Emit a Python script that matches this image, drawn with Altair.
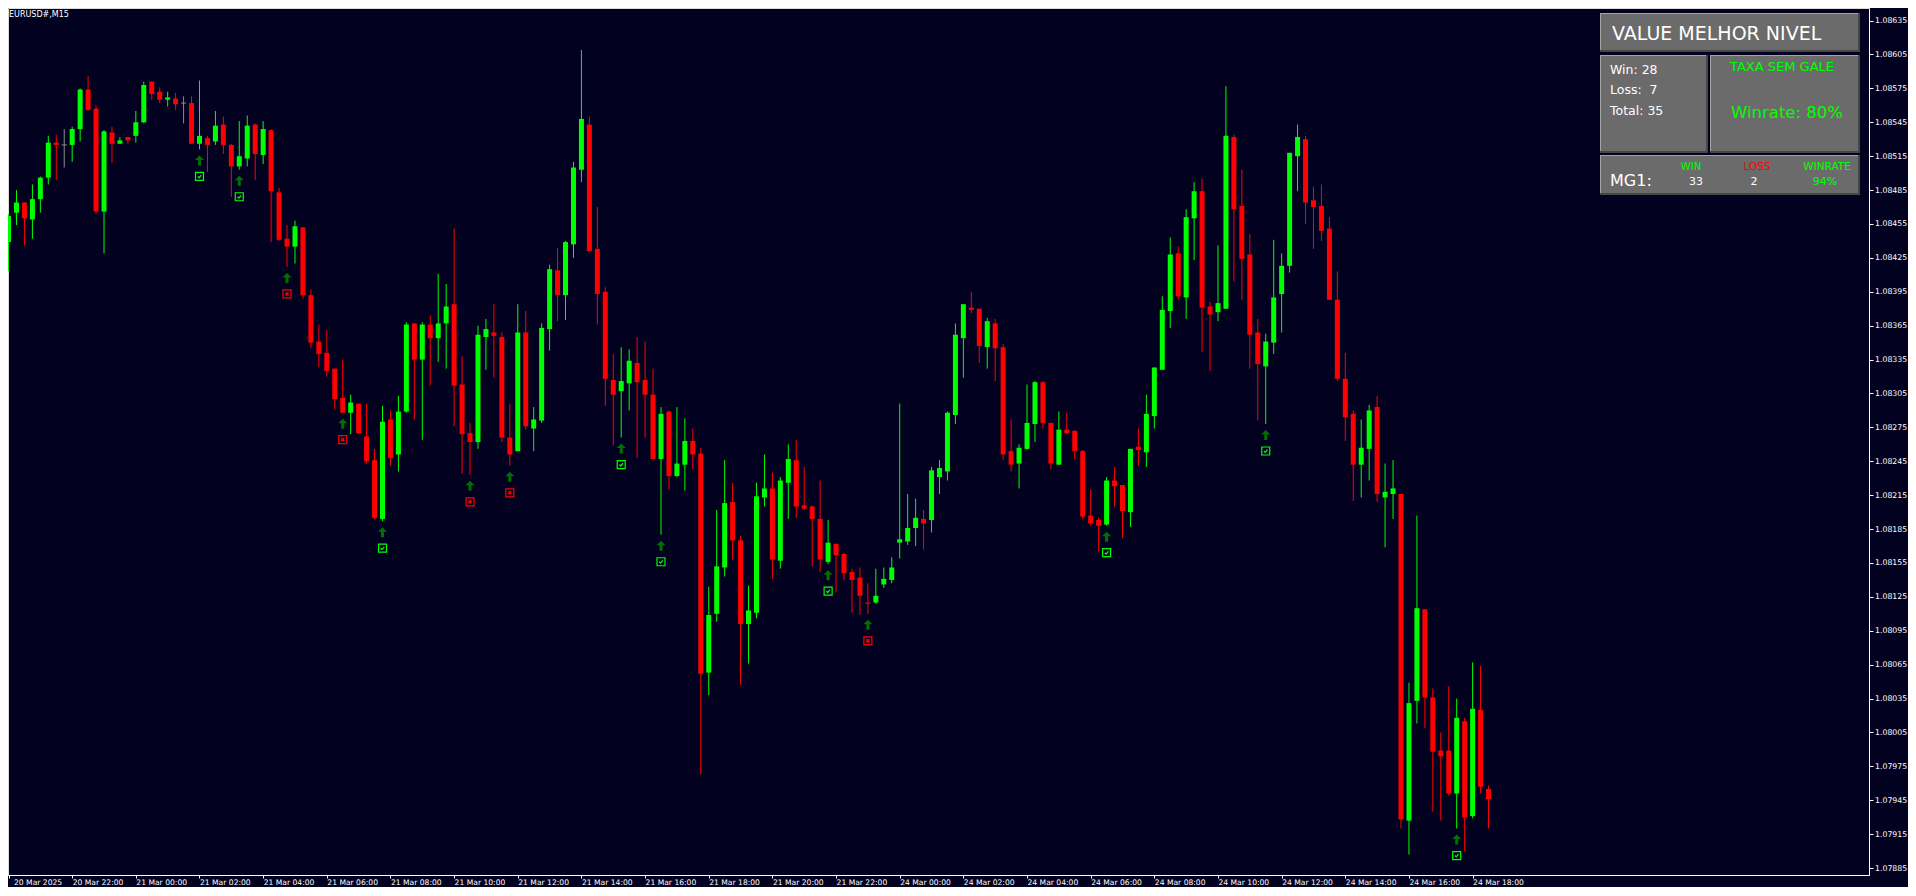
import altair as alt
import pandas as pd

SYMBOL = "EURUSD#,M15"

OPEN = [1.08439, 1.08465, 1.08474, 1.08459, 1.08477, 1.08496, 1.08527, 1.08525, 1.08525, 1.08539,
        1.08574, 1.08557, 1.08466, 1.08536, 1.08526, 1.08532, 1.08533, 1.08545, 1.08581, 1.08572,
        1.08565, 1.08566, 1.08562, 1.08562, 1.08526, 1.08531, 1.08528, 1.08543, 1.08525, 1.08506,
        1.08513, 1.08543, 1.08516, 1.08538, 1.08483, 1.08442, 1.08435, 1.08452, 1.08392, 1.08351,
        1.08341, 1.08327, 1.08301, 1.08288, 1.08296, 1.08267, 1.08246, 1.08194, 1.08282, 1.08251,
        1.08289, 1.08367, 1.08335, 1.08366, 1.08354, 1.08367, 1.08384, 1.08313, 1.08270, 1.08262,
        1.08355, 1.08359, 1.08355, 1.08266, 1.08254, 1.08359, 1.08274, 1.08281, 1.08362, 1.08414,
        1.08392, 1.08437, 1.08503, 1.08543, 1.08433, 1.08395, 1.08317, 1.08307, 1.08314, 1.08332,
        1.08317, 1.08304, 1.08247, 1.08289, 1.08232, 1.08242, 1.08263, 1.08252, 1.08058, 1.08110,
        1.08151, 1.08209, 1.08175, 1.08101, 1.08111, 1.08213, 1.08221, 1.08157, 1.08226, 1.08246,
        1.08206, 1.08205, 1.08194, 1.08156, 1.08172, 1.08163, 1.08147, 1.08142, 1.08120, 1.08120,
        1.08136, 1.08140, 1.08173, 1.08174, 1.08186, 1.08194, 1.08193, 1.08231, 1.08236, 1.08286,
        1.08354, 1.08381, 1.08380, 1.08346, 1.08367, 1.08346, 1.08254, 1.08243, 1.08256, 1.08278,
        1.08315, 1.08279, 1.08242, 1.08273, 1.08272, 1.08254, 1.08197, 1.08193, 1.08189, 1.08228,
        1.08224, 1.08200, 1.08258, 1.08253, 1.08285, 1.08326, 1.08378, 1.08429, 1.08390, 1.08460,
        1.08484, 1.08382, 1.08377, 1.08380, 1.08532, 1.08471, 1.08428, 1.08359, 1.08329, 1.08350,
        1.08393, 1.08418, 1.08515, 1.08530, 1.08476, 1.08471, 1.08451, 1.08388, 1.08318, 1.08287,
        1.08242, 1.08256, 1.08293, 1.08213, 1.08216, 1.08216, 1.07927, 1.08033, 1.08114, 1.08036,
        1.07989, 1.07989, 1.07951, 1.08015, 1.07931, 1.08025, 1.07955]

HIGH = [1.08464, 1.08485, 1.08474, 1.08490, 1.08497, 1.08533, 1.08534, 1.08539, 1.08541, 1.08575,
        1.08586, 1.08560, 1.08538, 1.08541, 1.08532, 1.08532, 1.08555, 1.08581, 1.08581, 1.08576,
        1.08572, 1.08571, 1.08568, 1.08568, 1.08582, 1.08533, 1.08555, 1.08550, 1.08526, 1.08546,
        1.08551, 1.08544, 1.08546, 1.08539, 1.08487, 1.08454, 1.08458, 1.08452, 1.08397, 1.08366,
        1.08361, 1.08327, 1.08335, 1.08304, 1.08296, 1.08296, 1.08256, 1.08294, 1.08290, 1.08303,
        1.08368, 1.08367, 1.08368, 1.08374, 1.08411, 1.08402, 1.08451, 1.08338, 1.08279, 1.08365,
        1.08371, 1.08384, 1.08359, 1.08296, 1.08384, 1.08378, 1.08293, 1.08367, 1.08419, 1.08434,
        1.08440, 1.08510, 1.08609, 1.08550, 1.08470, 1.08399, 1.08340, 1.08346, 1.08344, 1.08355,
        1.08351, 1.08327, 1.08293, 1.08290, 1.08293, 1.08283, 1.08274, 1.08257, 1.08134, 1.08202,
        1.08246, 1.08226, 1.08179, 1.08135, 1.08226, 1.08251, 1.08235, 1.08231, 1.08260, 1.08264,
        1.08240, 1.08206, 1.08228, 1.08193, 1.08172, 1.08164, 1.08150, 1.08151, 1.08137, 1.08150,
        1.08151, 1.08160, 1.08296, 1.08216, 1.08212, 1.08202, 1.08240, 1.08246, 1.08289, 1.08367,
        1.08384, 1.08395, 1.08380, 1.08372, 1.08371, 1.08349, 1.08282, 1.08260, 1.08313, 1.08316,
        1.08316, 1.08279, 1.08289, 1.08288, 1.08272, 1.08255, 1.08220, 1.08195, 1.08231, 1.08240,
        1.08224, 1.08256, 1.08274, 1.08304, 1.08328, 1.08391, 1.08443, 1.08435, 1.08468, 1.08492,
        1.08495, 1.08386, 1.08436, 1.08577, 1.08534, 1.08503, 1.08446, 1.08371, 1.08358, 1.08441,
        1.08429, 1.08518, 1.08543, 1.08533, 1.08488, 1.08490, 1.08461, 1.08413, 1.08341, 1.08290,
        1.08282, 1.08295, 1.08303, 1.08243, 1.08246, 1.08216, 1.08049, 1.08197, 1.08114, 1.08044,
        1.08005, 1.08046, 1.08035, 1.08018, 1.08067, 1.08064, 1.07958]

LOW = [1.08413, 1.08454, 1.08436, 1.08442, 1.08465, 1.08490, 1.08494, 1.08505, 1.08510, 1.08528,
       1.08555, 1.08464, 1.08429, 1.08509, 1.08526, 1.08526, 1.08527, 1.08544, 1.08565, 1.08562,
       1.08559, 1.08556, 1.08544, 1.08526, 1.08521, 1.08501, 1.08525, 1.08517, 1.08479, 1.08503,
       1.08506, 1.08494, 1.08508, 1.08439, 1.08440, 1.08417, 1.08420, 1.08389, 1.08345, 1.08328,
       1.08320, 1.08291, 1.08288, 1.08269, 1.08269, 1.08243, 1.08194, 1.08192, 1.08241, 1.08236,
       1.08288, 1.08282, 1.08264, 1.08312, 1.08333, 1.08327, 1.08276, 1.08234, 1.08233, 1.08256,
       1.08326, 1.08319, 1.08262, 1.08241, 1.08254, 1.08273, 1.08254, 1.08279, 1.08343, 1.08369,
       1.08370, 1.08425, 1.08492, 1.08431, 1.08366, 1.08294, 1.08259, 1.08266, 1.08290, 1.08248,
       1.08266, 1.08247, 1.08180, 1.08220, 1.08231, 1.08219, 1.08238, 1.07968, 1.08038, 1.08103,
       1.08143, 1.08158, 1.08047, 1.08066, 1.08106, 1.08205, 1.08141, 1.08150, 1.08194, 1.08195,
       1.08202, 1.08152, 1.08147, 1.08154, 1.08129, 1.08140, 1.08111, 1.08109, 1.08110, 1.08119,
       1.08133, 1.08137, 1.08159, 1.08171, 1.08170, 1.08167, 1.08182, 1.08216, 1.08228, 1.08278,
       1.08319, 1.08376, 1.08332, 1.08327, 1.08316, 1.08246, 1.08236, 1.08221, 1.08255, 1.08262,
       1.08274, 1.08238, 1.08242, 1.08269, 1.08247, 1.08194, 1.08188, 1.08165, 1.08188, 1.08205,
       1.08177, 1.08187, 1.08241, 1.08240, 1.08274, 1.08326, 1.08363, 1.08388, 1.08371, 1.08423,
       1.08342, 1.08325, 1.08369, 1.08380, 1.08404, 1.08388, 1.08327, 1.08281, 1.08278, 1.08340,
       1.08359, 1.08412, 1.08484, 1.08455, 1.08433, 1.08440, 1.08388, 1.08316, 1.08263, 1.08210,
       1.08213, 1.08228, 1.08209, 1.08169, 1.08194, 1.07920, 1.07897, 1.08013, 1.08009, 1.07935,
       1.07927, 1.07949, 1.07920, 1.07900, 1.07929, 1.07951, 1.07920]

CLOSE = [1.08462, 1.08474, 1.08460, 1.08477, 1.08496, 1.08527, 1.08525, 1.08525, 1.08539, 1.08574,
         1.08556, 1.08466, 1.08537, 1.08526, 1.08529, 1.08529, 1.08545, 1.08578, 1.08570, 1.08565,
         1.08567, 1.08561, 1.08562, 1.08526, 1.08533, 1.08525, 1.08542, 1.08525, 1.08506, 1.08515,
         1.08542, 1.08517, 1.08539, 1.08484, 1.08441, 1.08435, 1.08453, 1.08392, 1.08350, 1.08340,
         1.08325, 1.08300, 1.08288, 1.08297, 1.08270, 1.08245, 1.08195, 1.08280, 1.08248, 1.08289,
         1.08366, 1.08335, 1.08366, 1.08354, 1.08367, 1.08382, 1.08312, 1.08269, 1.08262, 1.08357,
         1.08362, 1.08356, 1.08266, 1.08251, 1.08359, 1.08276, 1.08282, 1.08363, 1.08415, 1.08392,
         1.08439, 1.08505, 1.08548, 1.08431, 1.08393, 1.08318, 1.08304, 1.08316, 1.08334, 1.08315,
         1.08304, 1.08247, 1.08287, 1.08232, 1.08243, 1.08263, 1.08251, 1.08057, 1.08109, 1.08152,
         1.08208, 1.08175, 1.08101, 1.08113, 1.08214, 1.08221, 1.08158, 1.08228, 1.08247, 1.08205,
         1.08203, 1.08194, 1.08158, 1.08173, 1.08162, 1.08146, 1.08140, 1.08126, 1.08119, 1.08126,
         1.08141, 1.08151, 1.08176, 1.08186, 1.08195, 1.08190, 1.08237, 1.08239, 1.08288, 1.08357,
         1.08384, 1.08379, 1.08347, 1.08369, 1.08345, 1.08251, 1.08242, 1.08257, 1.08279, 1.08315,
         1.08279, 1.08243, 1.08273, 1.08270, 1.08254, 1.08196, 1.08190, 1.08188, 1.08228, 1.08223,
         1.08201, 1.08256, 1.08255, 1.08287, 1.08328, 1.08379, 1.08428, 1.08391, 1.08461, 1.08484,
         1.08381, 1.08375, 1.08385, 1.08533, 1.08468, 1.08424, 1.08357, 1.08331, 1.08351, 1.08390,
         1.08418, 1.08518, 1.08532, 1.08474, 1.08470, 1.08449, 1.08388, 1.08318, 1.08284, 1.08242,
         1.08257, 1.08290, 1.08216, 1.08218, 1.08221, 1.07928, 1.08031, 1.08115, 1.08036, 1.07988,
         1.07984, 1.07951, 1.08018, 1.07930, 1.08026, 1.07957, 1.07946]

X_LABELS = ["20 Mar 2025", "20 Mar 22:00", "21 Mar 00:00", "21 Mar 02:00", "21 Mar 04:00",
            "21 Mar 06:00", "21 Mar 08:00", "21 Mar 10:00", "21 Mar 12:00", "21 Mar 14:00",
            "21 Mar 16:00", "21 Mar 18:00", "21 Mar 20:00", "21 Mar 22:00", "24 Mar 00:00",
            "24 Mar 02:00", "24 Mar 04:00", "24 Mar 06:00", "24 Mar 08:00", "24 Mar 10:00",
            "24 Mar 12:00", "24 Mar 14:00", "24 Mar 16:00", "24 Mar 18:00"]
BARS_PER_LABEL = 8

Y_TICKS = [1.07885, 1.07915, 1.07945, 1.07975, 1.08005, 1.08035, 1.08065, 1.08095, 1.08125,
           1.08155, 1.08185, 1.08215, 1.08245, 1.08275, 1.08305, 1.08335, 1.08365, 1.08395,
           1.08425, 1.08455, 1.08485, 1.08515, 1.08545, 1.08575, 1.08605, 1.08635]

SIGNAL_BARS = [24, 29, 35, 42, 47, 58, 63, 77, 82, 103, 108, 138, 158, 182]
SIGNAL_RESULT = ["win", "win", "loss", "loss", "win", "loss", "loss", "win", "win", "win",
                 "loss", "win", "win", "win"]

PANEL_TITLE = "VALUE MELHOR NIVEL"
WIN, LOSS, TOTAL, WINRATE = 28, 7, 35, 80
MG1_WIN, MG1_LOSS, MG1_WINRATE = 33, 2, 94

# ---------------------------------------------------------------- styling
BG = "#020220"
BULL = "#00ff00"
BEAR = "#ff0000"
DOJI = "#8c8c8c"
FONT = "DejaVu Sans"
PLOT_W, PLOT_H = 1861, 867

n = len(OPEN)
df = pd.DataFrame({"idx": list(range(n)), "open": OPEN, "high": HIGH, "low": LOW, "close": CLOSE})
df["col"] = [BULL if c > o else (BEAR if c < o else DOJI) for o, c in zip(OPEN, CLOSE)]

sig = pd.DataFrame({"idx": SIGNAL_BARS, "result": SIGNAL_RESULT})
sig["low"] = [LOW[i] for i in SIGNAL_BARS]
sig["col"] = [BULL if r == "win" else BEAR for r in SIGNAL_RESULT]

xs = alt.Scale(domain=[0.5625, 233.1875], nice=False, zero=False)
ys = alt.Scale(domain=[1.0787889, 1.0864615], nice=False, zero=False)

label_expr = "[" + ",".join("'%s'" % s for s in X_LABELS) + "][round(datum.value / %d)]" % BARS_PER_LABEL
x_axis = alt.Axis(values=[BARS_PER_LABEL * k for k in range(len(X_LABELS))], labelExpr=label_expr,
                  title=None, grid=False, tickSize=3, tickColor="white", domainColor="white",
                  labelColor="white", labelFont=FONT, labelFontSize=7.6, labelAlign="left",
                  labelBaseline="top", labelPadding=0, labelFlush=False, labelOverlap=False,
                  labelOffset={"condition": {"test": "datum.value === 0", "value": 5}, "value": 0})
y_axis = alt.Axis(orient="right", values=Y_TICKS, format=".5f", title=None, grid=False,
                  tickSize=4, tickColor="white", domainColor="white", labelColor="white",
                  labelFont=FONT, labelFontSize=7.8, labelPadding=1.5, labelBaseline="middle",
                  labelFlush=False, labelOverlap=False)


def X(field="idx"):
    return alt.X(f"{field}:Q", scale=xs, axis=x_axis)


def Y(field):
    return alt.Y(f"{field}:Q", scale=ys, axis=y_axis)


base = alt.Chart(df)
wicks = base.mark_rule(strokeWidth=1, clip=True, opacity=1).encode(
    x=X(), y=Y("low"), y2="high:Q", color=alt.Color("col:N", scale=None))
bodies = base.transform_filter("datum.open != datum.close").mark_bar(
    size=5, clip=True, opacity=1).encode(
    x=X(), y=Y("open"), y2="close:Q", color=alt.Color("col:N", scale=None))
doji = base.transform_filter("datum.open == datum.close").mark_tick(
    orient="horizontal", size=5, thickness=1, clip=True, opacity=1, color=DOJI).encode(
    x=X(), y=Y("open"))

ARROW = "M0,-1L0.9,-0.1L0.3,-0.1L0.3,1L-0.3,1L-0.3,-0.1L-0.9,-0.1Z"
CHECK = "M-0.6,0L-0.15,0.45L0.6,-0.45"
CROSS = "M-0.5,-0.5L0.5,0.5M-0.5,0.5L0.5,-0.5"

sbase = alt.Chart(sig)
arrows = sbase.mark_point(shape=ARROW, filled=True, size=100, color="#007000", opacity=1,
                          strokeWidth=0, yOffset=11).encode(x=X(), y=Y("low"))
boxes = sbase.mark_point(shape="square", filled=False, size=64, strokeWidth=1.2, opacity=1,
                         yOffset=27).encode(x=X(), y=Y("low"), color=alt.Color("col:N", scale=None))
checks = sbase.transform_filter("datum.result == 'win'").mark_point(
    shape=CHECK, filled=False, size=36, strokeWidth=1.3, opacity=1, color=BULL,
    yOffset=27).encode(x=X(), y=Y("low"))
crosses = sbase.transform_filter("datum.result == 'loss'").mark_point(
    shape=CROSS, filled=False, size=36, strokeWidth=1.5, opacity=1, color=BEAR,
    yOffset=27).encode(x=X(), y=Y("low"))

dummy = pd.DataFrame({"d": [0]})


def rect(x, x2, y, y2, color):
    return alt.Chart(dummy).mark_rect(color=color, opacity=1).encode(
        x=alt.value(x), x2=alt.value(x2), y=alt.value(y), y2=alt.value(y2))


def panel_box(x, x2, y, y2):
    return [rect(x, x2, y, y2, "#474747"),
            rect(x, x2 - 2, y, y2 - 2, "#a4a4a4"),
            rect(x + 1, x2 - 2, y + 1, y2 - 2, "#6b6b6b")]


def txt(s, x, y, size, color="white", align="left"):
    return alt.Chart(dummy).mark_text(text=s, font=FONT, fontSize=size, color=color,
                                      align=align, baseline="middle").encode(
        x=alt.value(x), y=alt.value(y))


panel = (panel_box(1592, 1852, 5, 44) + panel_box(1592, 1700, 47, 145)
         + panel_box(1702, 1852, 47, 145) + panel_box(1592, 1852, 147, 187))
texts = [
    txt(SYMBOL, 1, 7, 8),
    txt(PANEL_TITLE, 1604, 26, 19),
    txt(f"Win: {WIN}", 1602, 62, 12.5),
    txt(f"Loss:\u00a0 {LOSS}", 1602, 82, 12.5),
    txt(f"Total: {TOTAL}", 1602, 103, 12.5),
    txt("TAXA SEM GALE", 1774, 59, 13, BULL, "center"),
    txt(f"Winrate: {WINRATE}%", 1779, 105, 16.5, BULL, "center"),
    txt("MG1:", 1602, 173, 16),
    txt("WIN", 1683, 159, 10, BULL, "center"),
    txt("LOSS", 1749, 159, 10.5, BEAR, "center"),
    txt("WINRATE", 1819, 159, 10.5, BULL, "center"),
    txt(str(MG1_WIN), 1688, 174, 11, "white", "center"),
    txt(str(MG1_LOSS), 1746, 174, 11, "white", "center"),
    txt(f"{MG1_WINRATE}%", 1817, 174, 11, BULL, "center"),
]

chart = alt.layer(wicks, bodies, doji, arrows, boxes, checks, crosses, *panel, *texts).properties(
    width=PLOT_W, height=PLOT_H, background=BG,
    autosize=alt.AutoSizeParams(type="none"),
    padding={"left": 0, "top": 0, "right": 39, "bottom": 12},
).configure_view(stroke="white", strokeWidth=1).configure(font=FONT)

chart.save("out.html", embed_options={"renderer": "svg", "actions": False})
